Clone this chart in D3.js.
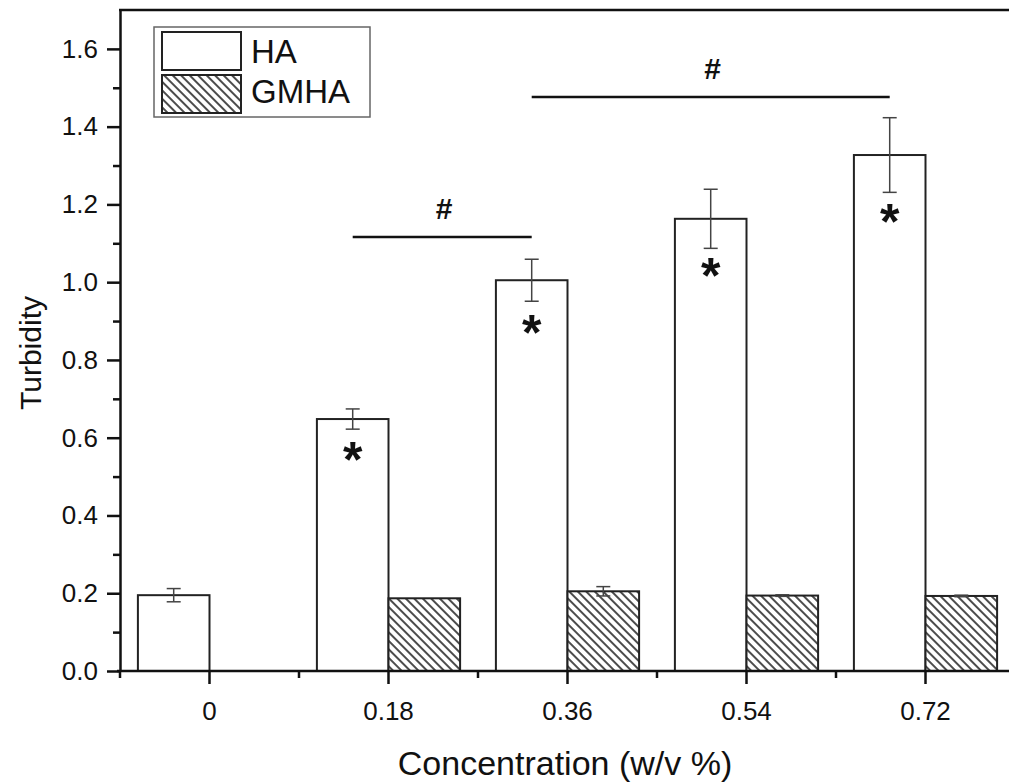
<!DOCTYPE html>
<html>
<head>
<meta charset="utf-8">
<script src="https://cdn.jsdelivr.net/npm/d3@7"></script>
<style>
  html, body { margin: 0; padding: 0; background: #fff; }
  svg { display: block; font-family: "Liberation Sans", Arial, sans-serif; }
</style>
</head>
<body>
<svg id="chart" width="1009" height="783"></svg>
<script>
const categories = ['0', '0.18', '0.36', '0.54', '0.72'];
const series = ['HA', 'GMHA'];
const haValues = [0.195, 0.648, 1.005, 1.163, 1.327];
const haErrors = [0.017, 0.026, 0.054, 0.076, 0.096];
const gmhaValues = [null, 0.187, 0.205, 0.194, 0.193];
const gmhaErrors = [null, 0.0, 0.012, 0.002, 0.002];
const yMajorTicks = [0, 0.2, 0.4, 0.6, 0.8, 1.0, 1.2, 1.4, 1.6];
const yMinorTicks = [0.1, 0.3, 0.5, 0.7, 0.9, 1.1, 1.3, 1.5];
// asterisks inside HA bars (category, y value of the mark)
const starMarks = [['0.18', 0.555], ['0.36', 0.882], ['0.54', 1.03], ['0.72', 1.167]];
// "#" brackets between HA bars
const sigLines = [['0.18', '0.36', 1.116], ['0.36', '0.72', 1.476]];

const svg = d3.select('#chart');
const mLeft = 120, mTop = 10, mBottom = 671, mRight = 1015;

const x = d3.scaleBand().domain(categories).range([mLeft, mRight]).padding(0);
const step = x.step();
const x1 = d3.scaleBand().domain(series).range([-0.4 * step, 0.4 * step]);
const y = d3.scaleLinear().domain([0, 1.7]).range([mBottom, mTop]);
const cx = (c) => x(c) + step / 2;

// hatch pattern, lines running top-left to bottom-right
const defs = svg.append('defs');
const pat = defs.append('pattern')
    .attr('id', 'hatch')
    .attr('patternUnits', 'userSpaceOnUse')
    .attr('width', 6).attr('height', 6)
    .attr('patternTransform', 'rotate(45)');
pat.append('rect').attr('width', 6).attr('height', 6).attr('fill', '#fff');
pat.append('line')
    .attr('x1', 0).attr('y1', 3).attr('x2', 6).attr('y2', 3)
    .attr('stroke', '#111').attr('stroke-width', 1.5);

const rows = categories.map((c, i) => ({
    cat: c,
    HA: {v: haValues[i], e: haErrors[i]},
    GMHA: {v: gmhaValues[i], e: gmhaErrors[i]}
}));

// bars
const groups = svg.append('g').selectAll('g')
    .data(rows)
    .enter()
    .append('g')
    .attr('transform', (d) => `translate(${cx(d.cat)},0)`);

series.forEach((s) => {
    const g = groups.filter((d) => d[s].v !== null);
    g.append('rect')
        .attr('x', x1(s))
        .attr('width', x1.bandwidth())
        .attr('y', (d) => y(d[s].v))
        .attr('height', (d) => mBottom - y(d[s].v))
        .attr('fill', s === 'HA' ? '#fff' : 'url(#hatch)')
        .attr('stroke', '#222')
        .attr('stroke-width', 2);
});

// error bars
series.forEach((s) => {
    const g = groups.filter((d) => d[s].v !== null && d[s].e > 0);
    const mid = x1(s) + x1.bandwidth() / 2;
    g.append('line')
        .attr('x1', mid).attr('x2', mid)
        .attr('y1', (d) => y(d[s].v + d[s].e))
        .attr('y2', (d) => y(d[s].v - d[s].e))
        .attr('stroke', '#444').attr('stroke-width', 1.5);
    [1, -1].forEach((sign) => {
        g.append('line')
            .attr('x1', mid - 7).attr('x2', mid + 7)
            .attr('y1', (d) => y(d[s].v + sign * d[s].e))
            .attr('y2', (d) => y(d[s].v + sign * d[s].e))
            .attr('stroke', '#444').attr('stroke-width', 1.5);
    });
});

// asterisks
const haMid = x1('HA') + x1.bandwidth() / 2;
svg.append('g').selectAll('text')
    .data(starMarks)
    .enter()
    .append('text')
    .attr('x', (d) => cx(d[0]) + haMid)
    .attr('y', (d) => y(d[1]) + 22)
    .attr('text-anchor', 'middle')
    .attr('font-size', 50)
    .attr('font-weight', 'bold')
    .attr('fill', '#111')
    .text('*');

// significance brackets
const sig = svg.append('g').selectAll('g').data(sigLines).enter().append('g');
sig.append('line')
    .attr('x1', (d) => cx(d[0]) + haMid)
    .attr('x2', (d) => cx(d[1]) + haMid)
    .attr('y1', (d) => y(d[2]))
    .attr('y2', (d) => y(d[2]))
    .attr('stroke', '#111').attr('stroke-width', 2.5);
sig.append('text')
    .attr('x', (d) => (cx(d[0]) + cx(d[1])) / 2 + haMid + 2)
    .attr('y', (d) => y(d[2]) - 18)
    .attr('text-anchor', 'middle')
    .attr('font-size', 30)
    .attr('font-weight', 'bold')
    .attr('fill', '#111')
    .text('#');

// axes
const axisStyle = (g) => {
    g.select('.domain').attr('stroke', '#111').attr('stroke-width', 2.5);
    g.selectAll('.tick line').attr('stroke', '#111').attr('stroke-width', 2.5);
    g.selectAll('.tick text').attr('font-size', 26).attr('fill', '#111')
        .attr('font-family', '"Liberation Sans", Arial, sans-serif');
};

svg.append('g')
    .attr('transform', `translate(0,${mBottom})`)
    .call(d3.axisBottom(x).tickSize(13).tickSizeOuter(0).tickPadding(18))
    .call(axisStyle)
    .call((g) => g.select('.domain').attr('d', `M${mLeft - 3},0H${mRight}`));

// x minor ticks at band boundaries
svg.append('g')
    .attr('transform', `translate(0,${mBottom})`)
    .call(d3.axisBottom(x).tickSize(7).tickFormat(''))
    .call((g) => g.select('.domain').remove())
    .call((g) => g.selectAll('.tick').attr('transform', (d) => `translate(${x(d)},0)`))
    .call((g) => g.selectAll('.tick line').attr('stroke', '#111').attr('stroke-width', 2.5));

svg.append('g')
    .attr('transform', `translate(${mLeft},0)`)
    .call(d3.axisLeft(y).tickValues(yMajorTicks).tickFormat(d3.format('.1f'))
        .tickSize(13).tickSizeOuter(0).tickPadding(9))
    .call(axisStyle);

svg.append('g')
    .attr('transform', `translate(${mLeft},0)`)
    .call(d3.axisLeft(y).tickValues(yMinorTicks).tickFormat('').tickSize(7).tickSizeOuter(0))
    .call((g) => g.select('.domain').remove())
    .call((g) => g.selectAll('.tick line').attr('stroke', '#111').attr('stroke-width', 2.5));

// top border
svg.append('line')
    .attr('x1', mLeft - 1).attr('x2', mRight)
    .attr('y1', mTop).attr('y2', mTop)
    .attr('stroke', '#111').attr('stroke-width', 2.5);

// axis titles
svg.append('text')
    .attr('x', 565).attr('y', 775)
    .attr('text-anchor', 'middle')
    .attr('font-size', 34)
    .attr('fill', '#111')
    .text('Concentration (w/v %)');

svg.append('text')
    .attr('transform', 'translate(41,353) rotate(-90)')
    .attr('text-anchor', 'middle')
    .attr('font-size', 30)
    .attr('fill', '#111')
    .text('Turbidity');

// legend
const legend = svg.append('g').attr('transform', 'translate(154,27)');
legend.append('rect')
    .attr('width', 216).attr('height', 90)
    .attr('fill', '#fff').attr('stroke', '#666').attr('stroke-width', 1.5);
series.forEach((s, i) => {
    legend.append('rect')
        .attr('x', 8).attr('y', 5 + i * 43)
        .attr('width', 79).attr('height', 38)
        .attr('fill', s === 'HA' ? '#fff' : 'url(#hatch)')
        .attr('stroke', '#222').attr('stroke-width', 2);
    legend.append('text')
        .attr('x', 97).attr('y', 36 + i * 40)
        .attr('font-size', 33)
        .attr('fill', '#111')
        .text(s);
});
</script>
</body>
</html>
